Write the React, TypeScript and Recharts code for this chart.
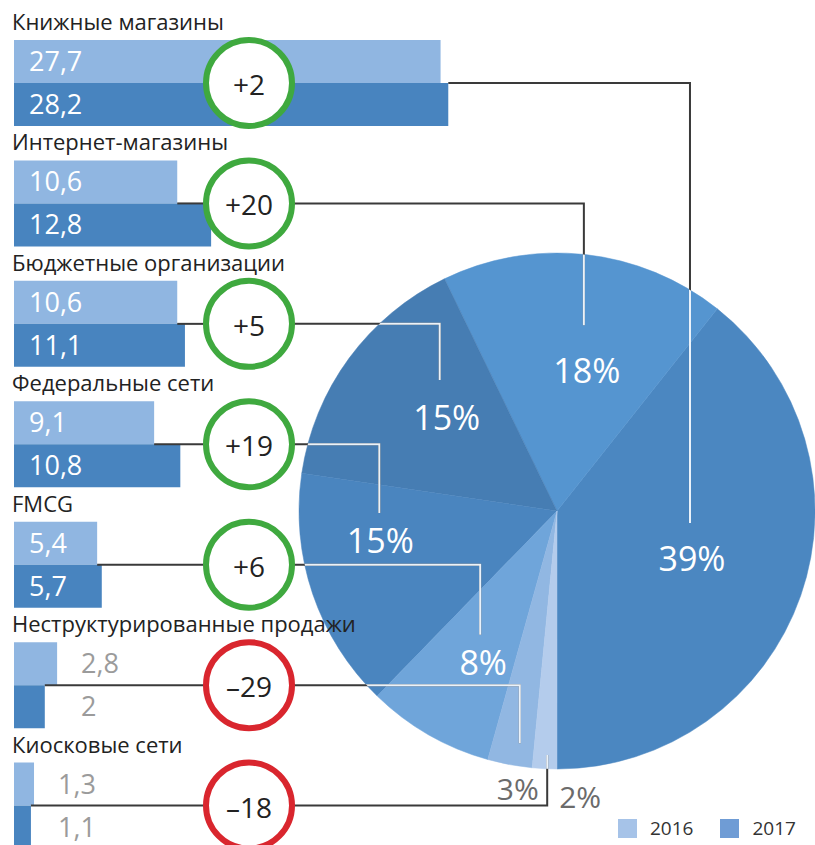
import React from "react";
import {
  BarChart,
  Bar,
  XAxis,
  YAxis,
  LabelList,
  Legend,
  PieChart,
  Pie,
  Cell,
} from "recharts";

// sales by channel, bln rub
const categories = [
  "Книжные магазины",
  "Интернет-магазины",
  "Бюджетные организации",
  "Федеральные сети",
  "FMCG",
  "Неструктурированные продажи",
  "Киосковые сети",
];
const sales2016 = [27.7, 10.6, 10.6, 9.1, 5.4, 2.8, 1.3];
const sales2017 = [28.2, 12.8, 11.1, 10.8, 5.7, 2, 1.1];
const changePct = [2, 20, 5, 19, 6, -29, -18];
const shareLabels = ["39%", "18%", "15%", "15%", "8%", "3%", "2%"];

const barData = categories.map((name, i) => ({
  name,
  v2016: sales2016[i],
  v2017: sales2017[i],
  change: changePct[i],
}));
const pieData = categories.map((name, i) => ({ name, value: sales2017[i] }));

// layout / styling
const W = 815;
const H = 845;
const FONT = '"Open Sans", "Noto Sans", sans-serif';
const C2016 = "#90b6e1";
const C2017 = "#4884bf";
const LEGEND_COLORS: Record<string, string> = { "2016": "#a6c3e8", "2017": "#6f9cd5" };
const PIE_COLORS = ["#4b87c1", "#5595d0", "#467db3", "#4a85bf", "#6fa5da", "#91b7e2", "#b4ccec"];
const PIE = { cx: 557, cy: 511, r: 258 };
const CIRCLE_X = 249;
const CIRCLE_R = 43;
const LABEL_R = [0.554, 0.558, 0.562, 0.694, 0.651, 1.085, 1.112];
const LABEL_DA = [0, -5.7, -4.2, -9.4, 3.8, 2.5, 7.4];
const LEADER_DX = [-2, -3, -7, -1, -3, 2, -33];
const LEADER_GAP = [35, 45, 37, 27, 27, 45, 42];
const LINE_DARK = "#3a3a3a";
const LINE_LIGHT = "#eaf2fa";

const total = sales2017.reduce((a, b) => a + b, 0);

function sliceMid(i: number) {
  let start = -90;
  for (let j = 0; j < i; j++) start += (sales2017[j] / total) * 360;
  return start + (sales2017[i] / total) * 180;
}

function labelPoint(i: number, cx: number, cy: number, r: number, mid: number) {
  const a = ((mid + LABEL_DA[i]) * Math.PI) / 180;
  return {
    x: cx + r * LABEL_R[i] * Math.cos(a),
    y: cy - r * LABEL_R[i] * Math.sin(a),
  };
}

const fmt = (v: number) => String(v).replace(".", ",");
const fmtChange = (v: number) => (v > 0 ? `+${v}` : `–${Math.abs(v)}`);

function CategoryLabel(props: any) {
  const { x, y, value } = props;
  return (
    <text x={x - 2} y={y - 10} fontSize={22} fill="#222" fontFamily={FONT}>
      {value}
    </text>
  );
}

function ValueLabel(props: any) {
  const { x, y, width, height, value, index } = props;
  const row = barData[index];
  const inside = value >= 5;
  const unit = width / value;
  const tx = inside ? x + 15 : x + Math.max(row.v2016, row.v2017) * unit + 24;
  return (
    <text
      x={tx}
      y={y + height / 2 - 1}
      dominantBaseline="central"
      fontSize={27}
      fill={inside ? "#ffffff" : "#9b9b9b"}
      fontFamily={FONT}
    >
      {fmt(value)}
    </text>
  );
}

function ChangeBadge(props: any) {
  const { x, y, width, index } = props;
  const row = barData[index];
  const unit = width / row.v2017;
  const end16 = x + row.v2016 * unit;
  const end17 = x + width;
  const cy = y;
  const lp = labelPoint(index, PIE.cx, PIE.cy, PIE.r, sliceMid(index));
  const lx = lp.x + LEADER_DX[index];
  const ly = lp.y - LEADER_GAP[index];
  const startR = Math.max(CIRCLE_X + CIRCLE_R, Math.max(end16, end17));
  const pts = `${startR},${cy} ${lx},${cy} ${lx},${ly}`;
  const minEnd = Math.min(end16, end17);
  const clipId = `pie-clip-${index}`;
  const color = row.change >= 0 ? "#3fa93f" : "#d9262e";
  return (
    <g>
      <defs>
        <clipPath id={clipId}>
          <circle cx={PIE.cx} cy={PIE.cy} r={PIE.r} />
        </clipPath>
      </defs>
      {minEnd < CIRCLE_X - CIRCLE_R && (
        <line x1={minEnd} y1={cy} x2={CIRCLE_X - CIRCLE_R} y2={cy} stroke={LINE_DARK} strokeWidth={2} />
      )}
      <polyline points={pts} fill="none" stroke={LINE_DARK} strokeWidth={2} />
      <polyline points={pts} fill="none" stroke={LINE_LIGHT} strokeWidth={2} clipPath={`url(#${clipId})`} />
      <circle cx={CIRCLE_X} cy={cy} r={CIRCLE_R} fill="#fff" stroke={color} strokeWidth={6} />
      <text
        x={CIRCLE_X}
        y={cy + 1}
        textAnchor="middle"
        dominantBaseline="central"
        fontSize={28}
        fill="#222"
        fontFamily={FONT}
      >
        {fmtChange(row.change)}
      </text>
    </g>
  );
}

function PieLabel(props: any) {
  const { cx, cy, outerRadius, midAngle, index } = props;
  const p = labelPoint(index, cx, cy, outerRadius, midAngle);
  const outside = LABEL_R[index] > 1;
  return (
    <text
      x={p.x}
      y={p.y}
      textAnchor="middle"
      dominantBaseline="central"
      fontSize={outside ? 30 : 34}
      fill={outside ? "#6b6b6b" : "#ffffff"}
      fontFamily={FONT}
    >
      {shareLabels[index]}
    </text>
  );
}

function LegendContent(props: any) {
  const items = props.payload || [];
  return (
    <div style={{ display: "flex", alignItems: "center", fontFamily: FONT, lineHeight: "22px" }}>
      {items.map((item: any) => (
        <div key={item.value} style={{ display: "flex", alignItems: "center", marginRight: 27 }}>
          <span
            style={{
              width: 19,
              height: 19,
              background: LEGEND_COLORS[item.value] || item.color,
              display: "inline-block",
              marginRight: 13,
            }}
          />
          <span style={{ fontSize: 19, color: "#333" }}>{item.value}</span>
        </div>
      ))}
    </div>
  );
}

export default function App() {
  return (
    <div
      style={{
        position: "relative",
        width: W,
        height: H,
        overflow: "hidden",
        background: "#fff",
        fontFamily: FONT,
      }}
    >
      <style>{`body{margin:0}`}</style>
      <PieChart
        width={W}
        height={H}
        margin={{ top: 0, right: 0, bottom: 0, left: 0 }}
        style={{ position: "absolute", left: 0, top: 0 }}
      >
        <Pie
          data={pieData}
          dataKey="value"
          cx={PIE.cx}
          cy={PIE.cy}
          outerRadius={PIE.r}
          startAngle={-90}
          endAngle={270}
          label={PieLabel}
          labelLine={false}
          isAnimationActive={false}
        >
          {pieData.map((d, i) => (
            <Cell key={d.name} fill={PIE_COLORS[i]} stroke={PIE_COLORS[i]} strokeWidth={0.5} />
          ))}
        </Pie>
      </PieChart>

      <BarChart
        layout="vertical"
        width={W}
        height={866}
        data={barData}
        margin={{ top: 23, right: 31, bottom: 0, left: 14 }}
        barGap={0}
        barSize={43}
        style={{ position: "absolute", left: 0, top: 0 }}
      >
        <XAxis type="number" domain={[0, 50]} hide />
        <YAxis type="category" dataKey="name" hide />
        <Bar dataKey="v2016" name="2016" fill={C2016} isAnimationActive={false}>
          <LabelList dataKey="name" content={CategoryLabel} />
          <LabelList dataKey="v2016" content={ValueLabel} />
        </Bar>
        <Bar dataKey="v2017" name="2017" fill={C2017} isAnimationActive={false}>
          <LabelList dataKey="v2017" content={ValueLabel} />
          <LabelList dataKey="change" content={ChangeBadge} />
        </Bar>
        <Legend
          layout="horizontal"
          verticalAlign="middle"
          align="center"
          content={LegendContent}
          wrapperStyle={{ position: "absolute", left: 618, top: 817, width: 197 }}
        />
      </BarChart>
    </div>
  );
}
